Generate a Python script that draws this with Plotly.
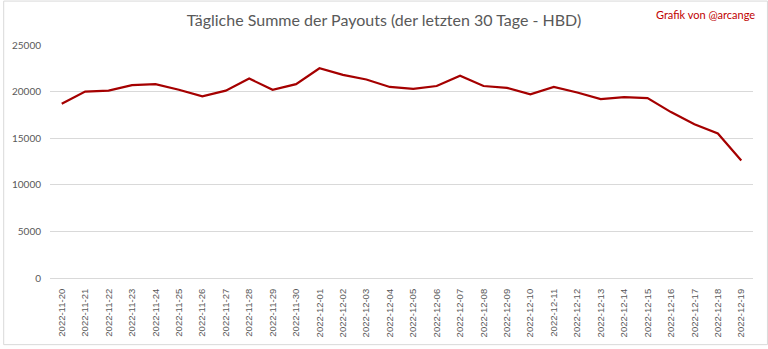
import plotly.graph_objects as go

dates = [
    "2022-11-20", "2022-11-21", "2022-11-22", "2022-11-23", "2022-11-24",
    "2022-11-25", "2022-11-26", "2022-11-27", "2022-11-28", "2022-11-29",
    "2022-11-30", "2022-12-01", "2022-12-02", "2022-12-03", "2022-12-04",
    "2022-12-05", "2022-12-06", "2022-12-07", "2022-12-08", "2022-12-09",
    "2022-12-10", "2022-12-11", "2022-12-12", "2022-12-13", "2022-12-14",
    "2022-12-15", "2022-12-16", "2022-12-17", "2022-12-18", "2022-12-19",
]
payouts_hbd = [
    18700, 20000, 20100, 20700, 20800,
    20200, 19500, 20100, 21400, 20200,
    20800, 22500, 21800, 21300, 20500,
    20300, 20600, 21700, 20600, 20400,
    19700, 20500, 19900, 19200, 19400,
    19300, 17800, 16500, 15500, 12600,
]
y_ticks = [0, 5000, 10000, 15000, 20000, 25000]

W, H = 768, 349
ML, MR, MT, MB = 47, 15, 45, 68
GRID = "#d9d9d9"
TEXT = "#595959"
FONT = "Lato, 'Open Sans', sans-serif"

fig = go.Figure()
fig.add_trace(go.Scatter(
    x=dates, y=payouts_hbd, mode="lines",
    line=dict(color="#a50000", width=2.2),
    hoverinfo="x+y", showlegend=False,
))

pw = W - ML - MR
ph = H - MT - MB
# chart frame around the whole canvas
fig.add_shape(
    type="rect", xref="paper", yref="paper", layer="below",
    x0=(0.5 - ML) / pw, x1=(W - 0.5 - ML) / pw,
    y0=-(MB - 0.5) / ph, y1=1 + (MT - 0.5) / ph,
    line=dict(color=GRID, width=1), fillcolor="rgba(0,0,0,0)",
)

fig.update_layout(
    width=W, height=H,
    margin=dict(l=ML, r=MR, t=MT, b=MB),
    paper_bgcolor="white", plot_bgcolor="white",
    font=dict(family=FONT, color=TEXT, size=10),
    title=dict(
        text="Tägliche Summe der Payouts (der letzten 30 Tage - HBD)",
        x=0.5, xref="container", xanchor="center",
        y=1 - 20 / H, yanchor="middle",
        font=dict(family=FONT, size=16, color=TEXT),
    ),
    annotations=[dict(
        text="Grafik von @arcange", xref="paper", yref="paper",
        x=1 + (757 - (W - MR)) / pw, xanchor="right",
        y=1 + (MT - 14) / ph, yanchor="middle",
        showarrow=False, font=dict(family=FONT, size=11, color="#c00000"),
    )],
    xaxis=dict(
        type="category", tickangle=-90, showgrid=False,
        range=[-0.5, len(dates) - 0.5],
        showline=True, linecolor=GRID, linewidth=1,
        ticks="", ticklabelstandoff=6,
        tickfont=dict(family="'Liberation Sans', Arial, sans-serif", size=9.5, color=TEXT),
        fixedrange=True,
    ),
    yaxis=dict(
        range=[0, 25000], tickvals=y_ticks, ticktext=[str(v) for v in y_ticks],
        showgrid=True, gridcolor=GRID, gridwidth=1,
        zeroline=False, showline=False, ticks="",
        ticklabelstandoff=8,
        tickfont=dict(size=10, color=TEXT), fixedrange=True,
    ),
)

fig.write_html("out.html")
